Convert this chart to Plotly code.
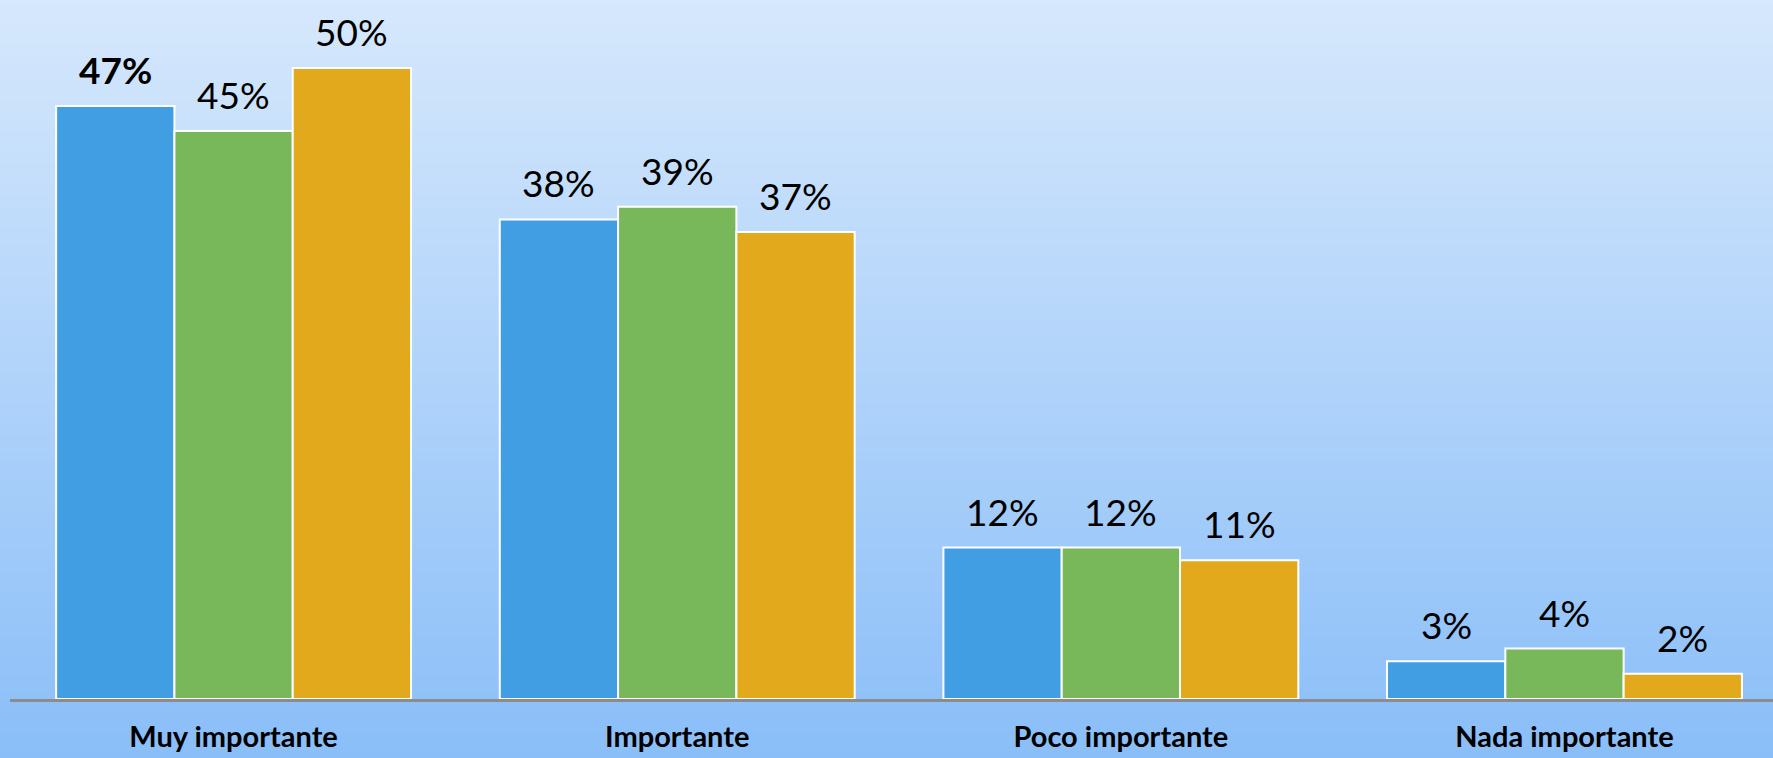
import plotly.graph_objects as go

categories = ["Muy importante", "Importante", "Poco importante", "Nada importante"]
series_names = ["Serie 1", "Serie 2", "Serie 3"]
serie_1 = [47, 38, 12, 3]
serie_2 = [45, 39, 12, 4]
serie_3 = [50, 37, 11, 2]
series_values = [serie_1, serie_2, serie_3]
colors = ["#429EE3", "#78B75A", "#E2A91D"]
bold_labels = {(0, 0)}

W, H = 1773, 758
margin_l, margin_r, margin_t, margin_b = 10, 0, 0, 59
plot_w = W - margin_l - margin_r
x_range = [-0.504, 3.47]
px_per_cat = plot_w / (x_range[1] - x_range[0])
bargap = 0.2
bar_px = px_per_cat * (1 - bargap) / 3

fig = go.Figure()
for i, (name, vals) in enumerate(zip(series_names, series_values)):
    fig.add_trace(go.Bar(
        x=categories, y=vals, name=name,
        marker=dict(color=colors[i], line=dict(color="white", width=2)),
        hoverinfo="skip",
    ))

annotations = []
for i, vals in enumerate(series_values):
    for j, v in enumerate(vals):
        txt = f"{v}%"
        if (i, j) in bold_labels:
            txt = f"<b>{txt}</b>"
        annotations.append(dict(
            x=categories[j], y=v, xref="x", yref="y",
            text=txt, showarrow=False,
            xshift=(i - 1) * bar_px, yshift=12,
            yanchor="bottom", xanchor="center",
            font=dict(family="Lato", size=37, color="black"),
        ))

# background vertical gradient
top = (214, 232, 252)
bot = (138, 190, 248)
n = 120
shapes = []
plot_h = H - margin_t - margin_b


def to_paper(ypx):
    return (H - margin_b - ypx) / plot_h


for k in range(n):
    t = (k + 0.5) / n
    c = tuple(round(top[m] + (bot[m] - top[m]) * t) for m in range(3))
    y_top_px = k * H / n - 1
    y_bot_px = (k + 1) * H / n + 1
    shapes.append(dict(
        type="rect", xref="paper", yref="paper", layer="below",
        x0=-margin_l / plot_w - 0.01, x1=1.01,
        y0=to_paper(y_bot_px), y1=to_paper(y_top_px),
        fillcolor="rgb(%d,%d,%d)" % c, line=dict(width=0),
    ))

fig.update_layout(
    width=W, height=H,
    margin=dict(l=margin_l, r=margin_r, t=margin_t, b=margin_b, autoexpand=False),
    paper_bgcolor="rgb(138,190,248)", plot_bgcolor="rgba(0,0,0,0)",
    barmode="group", bargap=bargap, bargroupgap=0,
    showlegend=False,
    shapes=shapes,
    annotations=annotations,
    xaxis=dict(
        range=x_range, showgrid=False, zeroline=False, automargin=False,
        showline=True, linecolor="#8C8C8C", linewidth=3,
        ticks="", ticklabelstandoff=10,
        tickfont=dict(family="Lato", size=29, color="black", weight="bold"),
    ),
    yaxis=dict(range=[0, 55.39], visible=False, showgrid=False, zeroline=False),
)

fig.write_html(
    "out.html",
    config={"displayModeBar": False},
    post_script="document.body.style.margin='0';document.body.style.padding='0';document.body.style.overflow='hidden';",
)
